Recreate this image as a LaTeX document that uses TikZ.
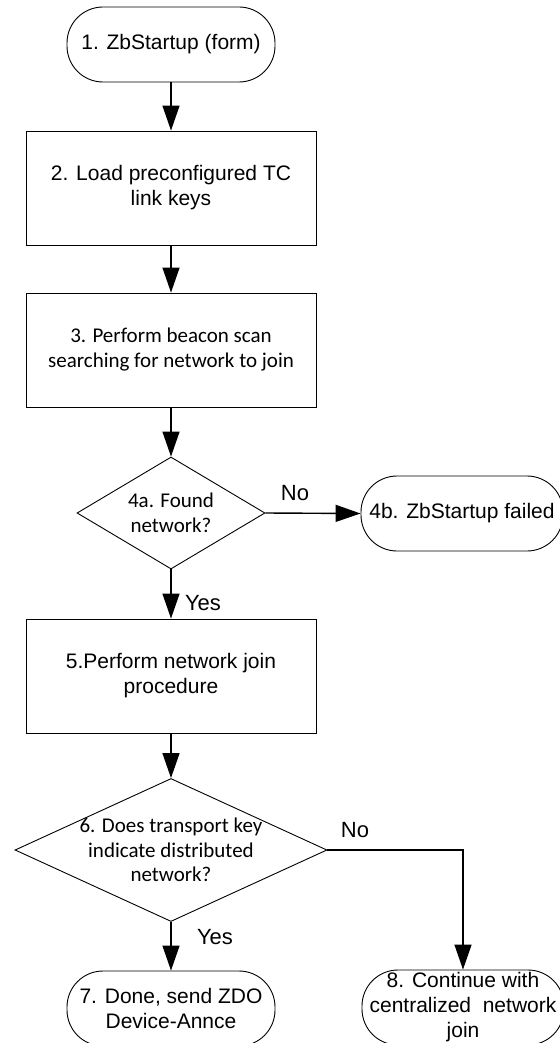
\documentclass[tikz,border=0pt]{standalone}
\usepackage{fontspec}
\setmainfont{Liberation Sans}
\newfontfamily\calibri{Carlito}
\usetikzlibrary{arrows.meta,shapes.geometric}

\begin{document}
\begin{tikzpicture}[x=1pt,y=-1pt,
  font=\fontsize{21}{25}\selectfont,
  terminal/.style={draw,line width=0.9pt,rounded corners=36pt,minimum height=75pt,inner sep=0pt,align=center},
  process/.style={draw,line width=0.9pt,minimum width=290pt,minimum height=114pt,inner sep=0pt,align=center},
  decision/.style={draw,line width=0.9pt,diamond,inner sep=0pt},
  qtext/.style={font=\calibri\fontsize{21}{24.5}\selectfont,align=center,inner sep=0pt},
  flow/.style={-{Triangle[length=25pt,width=17pt]},line width=1.4pt},
  answer/.style={font=\fontsize{22}{26}\selectfont,inner sep=0pt}]

\useasboundingbox (0,0) rectangle (559,1043);

% Start
\node[terminal,minimum width=208pt] (start) at (171,44.5) {1. ZbStartup (form)};

% Steps 2 and 3
\node[process] (keys) at (171,188) {2. Load preconfigured TC\\link keys};
\node[process,font=\calibri\fontsize{21}{25}\selectfont] (scan) at (171,350) {3. Perform beacon scan\\searching for network to join};

% Found network?
\node[decision,minimum width=188pt,minimum height=112pt] (found) at (171,513) {};
\node[qtext] (foundtext) at (found) {4a. Found\\network?};
\node[terminal,minimum width=202pt] (failed) at (462,513.5) {4b. ZbStartup failed};

% Step 5
\node[process] (join) at (171,676) {5.Perform network join\\procedure};

% Distributed network?
\node[decision,minimum width=312pt,minimum height=143pt] (dist) at (171,850) {};
\node[qtext] (disttext) at (dist) {6. Does transport key\\indicate distributed\\network?};

% End points
\node[terminal,minimum width=208pt] (done) at (171,1008.5) {7. Done, send ZDO\\Device-Annce};
\node[terminal,minimum width=202pt] (central) at (463,1007.5) {8. Continue with\\centralized\ \ network\\join};

% Connectors
\draw[flow] (start) -- (keys);
\draw[flow] (keys) -- (scan);
\draw[flow] (scan) -- (found);
\draw[flow] (found.east) -- (failed.west);
\draw[flow] (found) -- (join);
\draw[flow] (join) -- (dist);
\draw[flow] (dist) -- (done);
\draw[flow] (dist.east) -| (central.north);

% Answers
\node[answer] (no1) at (295,493) {No};
\node[answer] (yes1) at (203,603) {Yes};
\node[answer] (no2) at (355,830) {No};
\node[answer] (yes2) at (215,937) {Yes};

\end{tikzpicture}
\end{document}
